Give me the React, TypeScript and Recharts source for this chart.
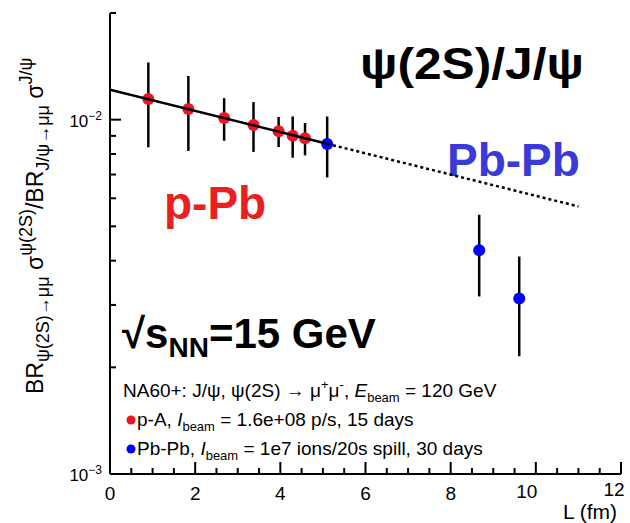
import React from 'react';
import { ComposedChart, Scatter, XAxis, YAxis, ErrorBar, Customized } from 'recharts';

// p-A points (red)
const pALength = [0.9, 1.84, 2.68, 3.37, 3.96, 4.29, 4.58];
const pARatio = [0.01143, 0.01072, 0.01011, 0.00966, 0.00927, 0.00901, 0.00886];
const pAError = [0.00307, 0.00256, 0.00139, 0.00155, 0.0009, 0.0012, 0.00093];

// Pb-Pb points (blue)
const pbLength = [5.1, 8.67, 9.61];
const pbRatio = [0.00854, 0.00428, 0.00313];
const pbError = [0.00167, 0.00111, 0.00098];

// fit line: solid over p-A range, dotted extrapolation
const fitSolidLength = [0, 5.1];
const fitSolidRatio = [0.01215, 0.00855];
const fitDotLength = [5.1, 11];
const fitDotRatio = [0.00855, 0.00569];

const xTicks = [0, 0.5, 1, 1.5, 2, 2.5, 3, 3.5, 4, 4.5, 5, 5.5, 6, 6.5, 7, 7.5, 8, 8.5, 9, 9.5, 10, 10.5, 11, 11.5, 12];
const xMajor = [0, 2, 4, 6, 8, 10, 12];
const yTicks = [0.001, 0.002, 0.003, 0.004, 0.005, 0.006, 0.007, 0.008, 0.009, 0.01, 0.02];
const yMajor: Record<string, string> = { '0.001': '\u22123', '0.01': '\u22122' };

const FONT = '"Liberation Sans", Arial, sans-serif';
const RED = '#f0141e';
const BLUE = '#0000ff';

const pA = pALength.map((L, i) => ({ L, v: pARatio[i], err: pAError[i] }));
const pb = pbLength.map((L, i) => ({ L, v: pbRatio[i], err: pbError[i] }));
const fitSolid = fitSolidLength.map((L, i) => ({ L, v: fitSolidRatio[i] }));
const fitDot = fitDotLength.map((L, i) => ({ L, v: fitDotRatio[i] }));

const isMajorX = (v: number) => xMajor.indexOf(v) >= 0;

const BottomTick = (props: any) => {
  const { x, y, payload } = props;
  const major = isMajorX(payload.value);
  let lx = x;
  let ly = y + 26;
  if (payload.value === 10) { lx = x - 9; ly = y + 24; }
  if (payload.value === 12) { lx = x - 7; ly = y + 22; }
  return (
    <g>
      <line x1={x} y1={y} x2={x} y2={y - (major ? 12 : 6)} stroke="#000" strokeWidth={2} />
      {major && (
        <text x={lx} y={ly} textAnchor="middle" fontSize={19} fontFamily={FONT} fill="#000">
          {payload.value}
        </text>
      )}
    </g>
  );
};

const TopTick = (props: any) => {
  const { x, y, payload } = props;
  const major = isMajorX(payload.value);
  return <line x1={x} y1={y} x2={x} y2={y + (major ? 12 : 6)} stroke="#000" strokeWidth={2} />;
};

const LeftTick = (props: any) => {
  const { x, y, payload } = props;
  const exp = yMajor[String(payload.value)];
  return (
    <g>
      <line x1={x} y1={y} x2={x + (exp ? 11 : 6)} y2={y} stroke="#000" strokeWidth={2} />
      {exp && (
        <text x={x - 8} y={y + 7} textAnchor="end" fontSize={17} fontFamily={FONT} fill="#000">
          10<tspan fontSize={12} dy={-7}>{exp}</tspan>
        </text>
      )}
    </g>
  );
};

const RightTick = (props: any) => {
  const { x, y, payload } = props;
  const exp = yMajor[String(payload.value)];
  return <line x1={x} y1={y} x2={x - (exp ? 11 : 6)} y2={y} stroke="#000" strokeWidth={2} />;
};

const Annotations = () => (
  <g fontFamily={FONT}>
    <text transform="rotate(-90)" x={-394} y={43} fontSize={23} fill="#000">
      BR<tspan fontSize={18} dy={6}>{'\u03c8(2S)\u2192\u03bc\u03bc'}</tspan>
      <tspan fontSize={23} dy={-6}>{' \u03c3'}</tspan>
      <tspan fontSize={18} dy={-11}>{'\u03c8(2S)'}</tspan>
      <tspan fontSize={23} dy={11}>/BR</tspan>
      <tspan fontSize={18} dy={6}>{'J/\u03c8\u2192\u03bc\u03bc'}</tspan>
      <tspan fontSize={23} dy={-6}>{' \u03c3'}</tspan>
      <tspan fontSize={18} dy={-11}>{'J/\u03c8'}</tspan>
    </text>
    <text x={360} y={79} fontSize={45} fontWeight="bold" fill="#000" textLength={224} lengthAdjust="spacingAndGlyphs">
      {'\u03c8(2S)/J/\u03c8'}
    </text>
    <text x={447} y={176} fontSize={46} fontWeight="bold" fill="#3a3ad8">Pb-Pb</text>
    <text x={164} y={219} fontSize={46} fontWeight="bold" fill="#e8201f">p-Pb</text>
    <text x={122} y={348} fontSize={42} fontWeight="bold" fill="#000">
      {'\u221as'}<tspan fontSize={28} dy={9}>NN</tspan><tspan dy={-9}>=15 GeV</tspan>
    </text>
    <text x={123} y={397} fontSize={19} fill="#000">
      {'NA60+: J/\u03c8, \u03c8(2S) \u2192 \u03bc'}<tspan fontSize={13} dy={-8}>+</tspan>
      <tspan dy={8}>{'\u03bc'}</tspan><tspan fontSize={13} dy={-8}>-</tspan>
      <tspan dy={8}>, </tspan><tspan fontStyle="italic">E</tspan>
      <tspan fontSize={13} dy={5}>beam</tspan><tspan dy={-5}> = 120 GeV</tspan>
    </text>
    <circle cx={131} cy={420} r={4.5} fill={RED} />
    <text x={137} y={426} fontSize={19} fill="#000">
      p-A, <tspan fontStyle="italic">I</tspan><tspan fontSize={13} dy={5}>beam</tspan>
      <tspan dy={-5}> = 1.6e+08 p/s, 15 days</tspan>
    </text>
    <circle cx={131} cy={449} r={4.5} fill={BLUE} />
    <text x={137} y={455} fontSize={19} fill="#000">
      Pb-Pb, <tspan fontStyle="italic">I</tspan><tspan fontSize={13} dy={5}>beam</tspan>
      <tspan dy={-5}> = 1e7 ions/20s spill, 30 days</tspan>
    </text>
    <text x={617} y={519} textAnchor="end" fontSize={21} fill="#000">L (fm)</text>
  </g>
);

const Dot = (color: string) => (props: any) => (
  <circle cx={props.cx} cy={props.cy} r={6} fill={color} />
);

export default function App() {
  return (
    <div style={{ position: 'absolute', left: 0, top: 0, background: '#fff' }}>
      <ComposedChart width={630} height={523} margin={{ top: 13, right: 9, bottom: 0, left: 0 }}>
        <XAxis
          xAxisId="b" dataKey="L" type="number" domain={[0, 12]} ticks={xTicks} interval={0}
          height={49} tickSize={0} tickMargin={0} tickLine={false} tick={<BottomTick />}
          axisLine={{ stroke: '#000', strokeWidth: 2 }} allowDataOverflow
        />
        <XAxis
          xAxisId="t" orientation="top" dataKey="L" type="number" domain={[0, 12]} ticks={xTicks} interval={0}
          height={0} tickSize={0} tickMargin={0} tickLine={false} tick={<TopTick />}
          axisLine={{ stroke: '#000', strokeWidth: 2 }} allowDataOverflow
        />
        <YAxis
          yAxisId="l" dataKey="v" type="number" scale="log" domain={[0.001, 0.02]} ticks={yTicks} interval={0}
          width={110} tickSize={0} tickMargin={0} tickLine={false} tick={<LeftTick />}
          axisLine={{ stroke: '#000', strokeWidth: 2 }} allowDataOverflow
        />
        <YAxis
          yAxisId="r" orientation="right" dataKey="v" type="number" scale="log" domain={[0.001, 0.02]} ticks={yTicks} interval={0}
          width={0} tickSize={0} tickMargin={0} tickLine={false} tick={<RightTick />}
          axisLine={{ stroke: '#000', strokeWidth: 2 }} allowDataOverflow
        />
        <Scatter xAxisId="b" yAxisId="l" data={pA} fill={RED} shape={Dot(RED)} isAnimationActive={false}>
          <ErrorBar dataKey="err" direction="y" width={0} stroke="#000" strokeWidth={2.5} />
        </Scatter>
        <Scatter xAxisId="b" yAxisId="l" data={pb} fill={BLUE} shape={Dot(BLUE)} isAnimationActive={false}>
          <ErrorBar dataKey="err" direction="y" width={0} stroke="#000" strokeWidth={2.5} />
        </Scatter>
        <Scatter
          xAxisId="b" yAxisId="l" data={fitSolid} shape={() => <g />}
          line={{ stroke: '#000', strokeWidth: 2.5 }} isAnimationActive={false}
        />
        <Scatter
          xAxisId="t" yAxisId="r" data={fitDot} shape={() => <g />}
          line={{ stroke: '#000', strokeWidth: 2.5, strokeDasharray: '3 3' }} isAnimationActive={false}
        />
        <Customized component={Annotations} />
      </ComposedChart>
    </div>
  );
}
